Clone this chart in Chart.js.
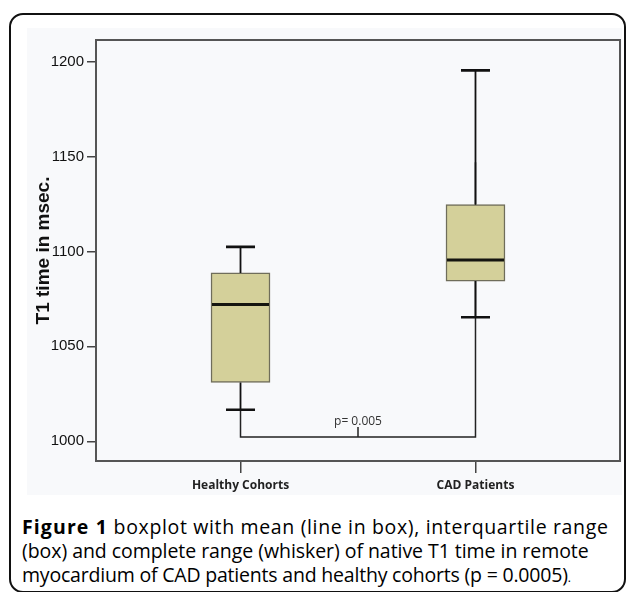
<!DOCTYPE html>
<html>
<head>
<meta charset="utf-8">
<script src="https://cdn.jsdelivr.net/npm/chart.js@4"></script>
<style>
  html, body { margin: 0; padding: 0; background: #fff; width: 627px; height: 592px; overflow: hidden; }
  #frame { position: absolute; left: 9px; top: 13px; width: 617px; height: 580px; box-sizing: border-box;
           border: 2px solid #111; border-radius: 14px; }
  #plot { position: absolute; left: 27px; top: 28px; width: 595px; height: 467px; background: #f8f9fb; }
  #caption { position: absolute; left: 22px; top: 515px; margin: 0; white-space: nowrap;
             font-family: "Open Sans", sans-serif; font-size: 19.5px;
             line-height: 24px; color: #000; }
  #caption span.l { display: block; }
  #caption .l1 { letter-spacing: 0.65px; }
  #caption .l2 { letter-spacing: -0.05px; }
  #caption .l3 { letter-spacing: -0.2px; }
  #caption b { font-weight: 700; letter-spacing: 1.1px; }
  #caption .dot { font-size: 12px; }
</style>
</head>
<body>
<div id="frame"></div>
<div id="plot"><canvas id="chart-area" width="595" height="467"></canvas></div>
<p id="caption"><span class="l l1"><b>Figure 1</b> boxplot with mean (line in box), interquartile range</span><span class="l l2">(box) and complete range (whisker) of native T1 time in remote</span><span class="l l3">myocardium of CAD patients and healthy cohorts (p = 0.0005)<span class="dot">.</span></span></p>
<script>
'use strict';

var categories = ['Healthy Cohorts', 'CAD Patients'];
var minVals = [1016.6, 1065.3];
var q1Vals = [1031, 1084.4];
var medians = [1072, 1095.5];
var q3Vals = [1088.7, 1124.7];
var maxVals = [1102.4, 1195.4];
var yTicks = [1000, 1050, 1100, 1150, 1200];
// significance bracket between the two groups
var bracketY = 1002.2;
var bracketLegTop = [1016.6, 1147];
var pLabel = 'p= 0.005';

var boxes = categories.map(function (c, i) {
   return { x: i + 1, y: [q1Vals[i], q3Vals[i]] };
});

var capHalf = 14.5;

var boxPlugin = {
   id: 'boxExtras',
   beforeDatasetsDraw: function (chart) {
      var ctx = chart.ctx, xs = chart.scales.x, ys = chart.scales.y;
      var xl = xs.getPixelForValue(1), xr = xs.getPixelForValue(2);
      var yb = ys.getPixelForValue(bracketY);
      ctx.save();
      ctx.strokeStyle = '#222';
      ctx.lineWidth = 1.5;
      ctx.beginPath();
      ctx.moveTo(xl, ys.getPixelForValue(bracketLegTop[0]));
      ctx.lineTo(xl, yb);
      ctx.lineTo(xr, yb);
      ctx.lineTo(xr, ys.getPixelForValue(bracketLegTop[1]));
      var xm = (xl + xr) / 2;
      ctx.moveTo(xm, yb);
      ctx.lineTo(xm, yb - 10);
      ctx.stroke();
      ctx.fillStyle = '#333';
      ctx.font = '12px "Open Sans", sans-serif';
      ctx.textAlign = 'center';
      ctx.textBaseline = 'bottom';
      ctx.fillText(pLabel, xm, yb - 10);
      ctx.restore();
   },
   afterDatasetsDraw: function (chart) {
      var ctx = chart.ctx, xs = chart.scales.x, ys = chart.scales.y;
      ctx.save();
      categories.forEach(function (c, i) {
         var x = xs.getPixelForValue(i + 1);
         var meta = chart.getDatasetMeta(0).data[i];
         var half = meta.width / 2;
         ctx.strokeStyle = '#111';
         ctx.lineWidth = 1.8;
         ctx.beginPath();
         ctx.moveTo(x, ys.getPixelForValue(q3Vals[i]));
         ctx.lineTo(x, ys.getPixelForValue(maxVals[i]));
         ctx.moveTo(x, ys.getPixelForValue(q1Vals[i]));
         ctx.lineTo(x, ys.getPixelForValue(minVals[i]));
         ctx.stroke();
         ctx.lineWidth = 2.6;
         ctx.beginPath();
         [minVals[i], maxVals[i]].forEach(function (v) {
            var y = ys.getPixelForValue(v);
            ctx.moveTo(x - capHalf, y);
            ctx.lineTo(x + capHalf, y);
         });
         ctx.stroke();
         ctx.lineWidth = 3;
         ctx.strokeStyle = '#151510';
         var ym = ys.getPixelForValue(medians[i]);
         ctx.beginPath();
         ctx.moveTo(x - half + 1, ym);
         ctx.lineTo(x + half - 1, ym);
         ctx.stroke();
      });
      // plot frame
      var a = chart.chartArea;
      ctx.strokeStyle = '#555';
      ctx.lineWidth = 2;
      ctx.strokeRect(a.left, a.top, a.right - a.left, a.bottom - a.top);
      ctx.restore();
   }
};

var config = {
   type: 'bar',
   data: {
      datasets: [{
         data: boxes,
         backgroundColor: '#d4d09a',
         borderColor: '#6f6d5a',
         borderWidth: 1.5,
         borderSkipped: false,
         barThickness: 59
      }]
   },
   options: {
      responsive: false,
      animation: false,
      layout: { padding: { top: 3, right: 2, left: 0, bottom: 0 } },
      plugins: { legend: { display: false }, tooltip: { enabled: false } },
      scales: {
         x: {
            type: 'linear',
            offset: false,
            min: 0.385,
            max: 2.615,
            afterBuildTicks: function (scale) {
               scale.ticks = [{ value: 1 }, { value: 2 }];
            },
            afterFit: function (scale) { scale.height = 34; },
            grid: { offset: false, drawOnChartArea: false, tickLength: 12, color: '#444', lineWidth: 1.5 },
            border: { display: false },
            ticks: {
               padding: 5,
               color: '#222',
               font: { family: '"Open Sans", sans-serif', size: 12, weight: 'bold' },
               callback: function (v) { return categories[v - 1]; }
            }
         },
         y: {
            min: 989.6,
            max: 1211.4,
            afterBuildTicks: function (scale) {
               scale.ticks = yTicks.map(function (v) { return { value: v }; });
            },
            afterFit: function (scale) { scale.width = 69; },
            grid: { drawOnChartArea: false, tickLength: 9, color: '#444', lineWidth: 1.5 },
            border: { display: false },
            ticks: {
               padding: 3,
               color: '#111',
               font: { family: '"Liberation Sans", Arial, sans-serif', size: 15 },
               callback: function (v) { return String(v); }
            },
            title: {
               display: true,
               text: 'T1 time in msec.',
               color: '#111',
               padding: { top: 5, bottom: 0 },
               font: { family: '"Liberation Sans", Arial, sans-serif', size: 19, weight: 'bold' }
            }
         }
      }
   },
   plugins: [boxPlugin]
};

window.onload = function () {
   var ctx = document.getElementById('chart-area').getContext('2d');
   window.myBoxes = new Chart(ctx, config);
};
</script>
</body>
</html>
